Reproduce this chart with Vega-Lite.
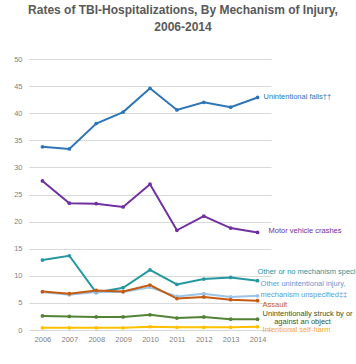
{
  "$schema": "https://vega.github.io/schema/vega-lite/v6.json",
  "width": 242,
  "height": 271,
  "autosize": "none",
  "padding": {"left": 29, "top": 59, "right": 85, "bottom": 34},
  "background": "white",
  "title": {
    "text": ["Rates of TBI-Hospitalizations, By Mechanism of Injury,", "2006-2014"],
    "font": "Liberation Sans",
    "fontSize": 12,
    "fontWeight": "bold",
    "color": "#595959",
    "anchor": "middle",
    "dx": 33,
    "offset": 21,
    "lineHeight": 17
  },
  "config": {
    "view": {"stroke": null},
    "font": "Liberation Sans",
    "axis": {"labelFont": "Liberation Sans", "labelColor": "#7F7F7F", "labelFontSize": 7.5, "domain": false, "ticks": false, "title": null, "gridColor": "#D9D9D9", "gridWidth": 1}
  },
  "data": {
    "values": [
      {"year": "2006", "series": "falls", "value": 33.8},
      {"year": "2007", "series": "falls", "value": 33.4},
      {"year": "2008", "series": "falls", "value": 38.1},
      {"year": "2009", "series": "falls", "value": 40.2},
      {"year": "2010", "series": "falls", "value": 44.6},
      {"year": "2011", "series": "falls", "value": 40.6},
      {"year": "2012", "series": "falls", "value": 42.0},
      {"year": "2013", "series": "falls", "value": 41.1},
      {"year": "2014", "series": "falls", "value": 42.9},
      {"year": "2006", "series": "motor", "value": 27.5},
      {"year": "2007", "series": "motor", "value": 23.4},
      {"year": "2008", "series": "motor", "value": 23.3},
      {"year": "2009", "series": "motor", "value": 22.7},
      {"year": "2010", "series": "motor", "value": 26.9},
      {"year": "2011", "series": "motor", "value": 18.4},
      {"year": "2012", "series": "motor", "value": 21.0},
      {"year": "2013", "series": "motor", "value": 18.8},
      {"year": "2014", "series": "motor", "value": 18.0},
      {"year": "2006", "series": "othernone", "value": 12.9},
      {"year": "2007", "series": "othernone", "value": 13.7},
      {"year": "2008", "series": "othernone", "value": 6.9},
      {"year": "2009", "series": "othernone", "value": 7.8},
      {"year": "2010", "series": "othernone", "value": 11.1},
      {"year": "2011", "series": "othernone", "value": 8.4},
      {"year": "2012", "series": "othernone", "value": 9.4},
      {"year": "2013", "series": "othernone", "value": 9.7},
      {"year": "2014", "series": "othernone", "value": 9.1},
      {"year": "2006", "series": "otherunint", "value": 7.0},
      {"year": "2007", "series": "otherunint", "value": 6.5},
      {"year": "2008", "series": "otherunint", "value": 7.0},
      {"year": "2009", "series": "otherunint", "value": 7.0},
      {"year": "2010", "series": "otherunint", "value": 7.9},
      {"year": "2011", "series": "otherunint", "value": 6.2},
      {"year": "2012", "series": "otherunint", "value": 6.7},
      {"year": "2013", "series": "otherunint", "value": 6.1},
      {"year": "2014", "series": "otherunint", "value": 6.3},
      {"year": "2006", "series": "assault", "value": 7.1},
      {"year": "2007", "series": "assault", "value": 6.7},
      {"year": "2008", "series": "assault", "value": 7.3},
      {"year": "2009", "series": "assault", "value": 7.1},
      {"year": "2010", "series": "assault", "value": 8.3},
      {"year": "2011", "series": "assault", "value": 5.8},
      {"year": "2012", "series": "assault", "value": 6.1},
      {"year": "2013", "series": "assault", "value": 5.6},
      {"year": "2014", "series": "assault", "value": 5.4},
      {"year": "2006", "series": "struck", "value": 2.6},
      {"year": "2007", "series": "struck", "value": 2.5},
      {"year": "2008", "series": "struck", "value": 2.4},
      {"year": "2009", "series": "struck", "value": 2.4},
      {"year": "2010", "series": "struck", "value": 2.8},
      {"year": "2011", "series": "struck", "value": 2.2},
      {"year": "2012", "series": "struck", "value": 2.4},
      {"year": "2013", "series": "struck", "value": 2.0},
      {"year": "2014", "series": "struck", "value": 2.0},
      {"year": "2006", "series": "selfharm", "value": 0.4},
      {"year": "2007", "series": "selfharm", "value": 0.4},
      {"year": "2008", "series": "selfharm", "value": 0.4},
      {"year": "2009", "series": "selfharm", "value": 0.4},
      {"year": "2010", "series": "selfharm", "value": 0.6},
      {"year": "2011", "series": "selfharm", "value": 0.5},
      {"year": "2012", "series": "selfharm", "value": 0.5},
      {"year": "2013", "series": "selfharm", "value": 0.5},
      {"year": "2014", "series": "selfharm", "value": 0.6}
    ]
  },
  "encoding": {
    "x": {"field": "year", "type": "ordinal", "scale": {"type": "point", "padding": 0.5}, "axis": {"labelAngle": 0, "grid": false, "labelPadding": 5}},
    "y": {"field": "value", "type": "quantitative", "scale": {"domain": [0, 50], "nice": false}, "axis": {"values": [0,5,10,15,20,25,30,35,40,45,50], "labelPadding": 7, "grid": true}}
  },
  "layer": [
    {
      "mark": {"type": "line", "strokeWidth": 2, "point": {"size": 14, "filled": true}},
      "encoding": {
        "color": {"field": "series", "type": "nominal", "legend": null,
          "sort": ["falls", "motor", "othernone", "otherunint", "assault", "struck", "selfharm"],
          "scale": {"domain": ["falls", "motor", "othernone", "otherunint", "assault", "struck", "selfharm"],
                    "range": ["#2E75B6", "#7030A0", "#2597A0", "#9DC3E6", "#C55A11", "#548235", "#FFC000"]}},
        "order": {"field": "year"}
      }
    },
    {
      "transform": [{"filter": "datum.series === 'falls' && datum.year === '2014'"}],
      "mark": {"type": "text", "align": "left", "baseline": "middle", "dx": 6, "fontSize": 7.5, "color": "#2E75B6", "text": "Unintentional falls††"}
    },
    {
      "transform": [{"filter": "datum.series === 'motor' && datum.year === '2014'"}],
      "mark": {"type": "text", "align": "left", "baseline": "middle", "dx": 11, "dy": -1, "fontSize": 7.5, "color": "#7030A0", "text": "Motor vehicle crashes"}
    },
    {
      "transform": [{"filter": "datum.series === 'othernone' && datum.year === '2014'"}],
      "mark": {"type": "text", "align": "left", "baseline": "middle", "dx": 0, "dy": -9, "fontSize": 7.5, "color": "#2597A0", "text": "Other or no mechanism specified"}
    },
    {
      "transform": [{"filter": "datum.series === 'otherunint' && datum.year === '2014'"}],
      "mark": {"type": "text", "align": "left", "baseline": "middle", "dx": 3, "dy": -12, "fontSize": 7.5, "color": "#5B9BD5", "text": "Other unintentional injury,"}
    },
    {
      "transform": [{"filter": "datum.series === 'otherunint' && datum.year === '2014'"}],
      "mark": {"type": "text", "align": "left", "baseline": "middle", "dx": 3, "dy": -1, "fontSize": 7.5, "color": "#5B9BD5", "text": "mechanism unspecified‡‡"}
    },
    {
      "transform": [{"filter": "datum.series === 'assault' && datum.year === '2014'"}],
      "mark": {"type": "text", "align": "left", "baseline": "middle", "dx": 5, "dy": 4, "fontSize": 7.5, "color": "#C55A11", "text": "Assault"}
    },
    {
      "transform": [{"filter": "datum.series === 'struck' && datum.year === '2014'"}],
      "mark": {"type": "text", "align": "left", "baseline": "middle", "dx": 5, "dy": -5, "fontSize": 7.5, "color": "#375623", "text": "Unintentionally struck by or"}
    },
    {
      "transform": [{"filter": "datum.series === 'struck' && datum.year === '2014'"}],
      "mark": {"type": "text", "align": "center", "baseline": "middle", "dx": 45, "dy": 3, "fontSize": 7.5, "color": "#375623", "text": "against an object"}
    },
    {
      "transform": [{"filter": "datum.series === 'selfharm' && datum.year === '2014'"}],
      "mark": {"type": "text", "align": "left", "baseline": "middle", "dx": 5, "dy": 3, "fontSize": 7.5, "color": "#F4A935", "text": "Intentional self-harm"}
    }
  ]
}
